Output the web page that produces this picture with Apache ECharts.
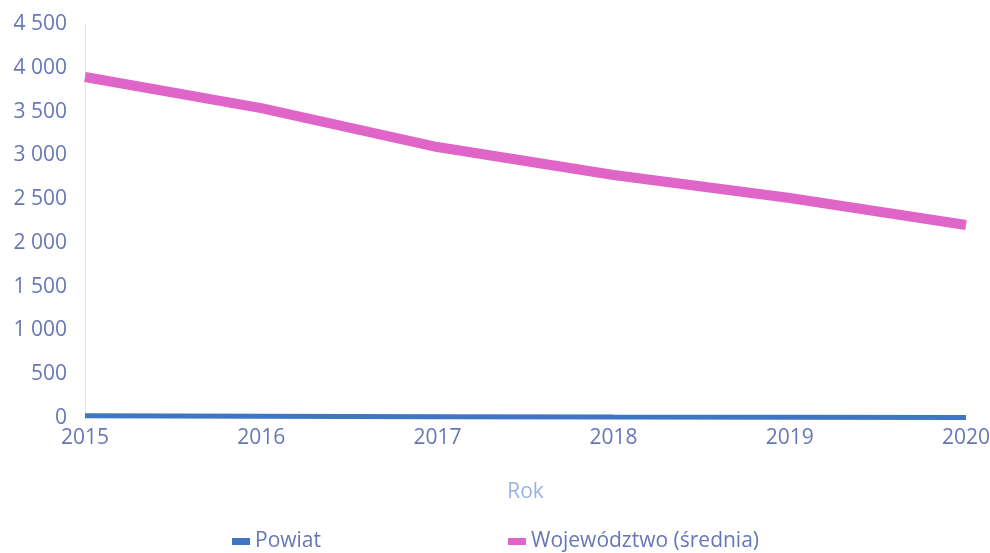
<!DOCTYPE html>
<html>
<head>
<meta charset="utf-8">
<script src="https://cdn.jsdelivr.net/npm/echarts@6/dist/echarts.min.js"></script>
<style>
  html, body { margin: 0; padding: 0; background: #fff; }
  #chart { width: 990px; height: 553px; }
</style>
</head>
<body>
<div id="chart"></div>
<script>
// 数据
const years = ['2015', '2016', '2017', '2018', '2019', '2020'];
const powiat = [25, 20, 15, 10, 8, 5];
const wojewodztwo = [3895, 3540, 3095, 2775, 2513, 2204];

const labelColor = '#6677b8';

const chart = echarts.init(document.getElementById('chart'));

const option = {
  backgroundColor: '#fff',
  textStyle: { fontFamily: 'Open Sans' },
  grid: { left: 85, right: 24, top: 24, bottom: 135, outerBoundsMode: 'none' },
  legend: {
    left: 227,
    top: 526,
    itemWidth: 18,
    itemHeight: 7,
    itemGap: 187,
    icon: 'rect',
    textStyle: { color: labelColor, fontSize: 21, fontFamily: 'Open Sans' },
    data: ['Powiat', 'Województwo (średnia)']
  },
  xAxis: {
    type: 'category',
    data: years,
    boundaryGap: false,
    name: 'Rok',
    nameLocation: 'middle',
    nameGap: 64,
    nameTextStyle: { color: '#9ab4e0', fontSize: 21 },
    axisLine: { show: false },
    axisTick: { show: false },
    axisLabel: { color: labelColor, fontSize: 21, margin: 10 }
  },
  yAxis: {
    type: 'value',
    min: 0,
    max: 4500,
    interval: 500,
    axisLine: { show: true, lineStyle: { color: '#dde6f0', width: 1 } },
    axisTick: { show: false },
    splitLine: { show: false },
    axisLabel: {
      color: labelColor,
      fontSize: 21,
      margin: 18,
      formatter: v => String(v).replace(/\B(?=(\d{3})+(?!\d))/g, ' ')
    }
  },
  series: [
    {
      name: 'Powiat',
      type: 'line',
      data: powiat,
      symbol: 'none',
      itemStyle: { color: '#3f76c4' },
      lineStyle: { width: 5, color: '#3f76c4' }
    },
    {
      name: 'Województwo (średnia)',
      type: 'line',
      data: wojewodztwo,
      symbol: 'none',
      itemStyle: { color: '#e065c8' },
      lineStyle: { width: 10, color: '#e065c8' }
    }
  ]
};

chart.setOption(option);
</script>
</body>
</html>
